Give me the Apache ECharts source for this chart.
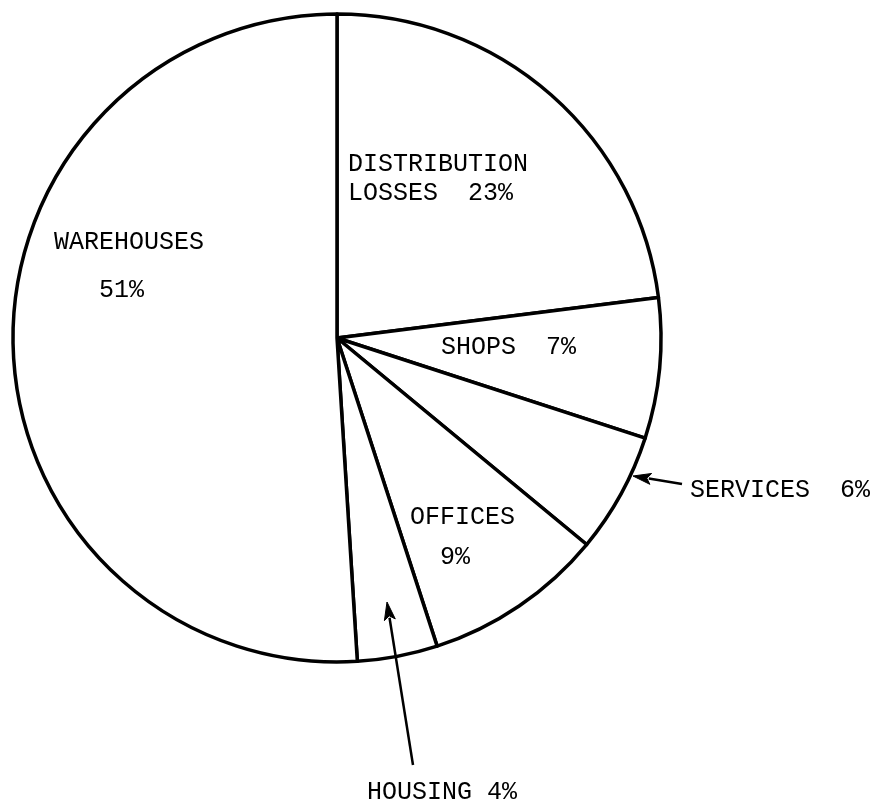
<!DOCTYPE html>
<html>
<head>
<meta charset="utf-8">
<script src="https://cdn.jsdelivr.net/npm/echarts@6/dist/echarts.min.js"></script>
<style>
html,body{margin:0;padding:0;background:#fff;}
#chart{width:879px;height:807px;}
</style>
</head>
<body>
<div id="chart"></div>
<script>
// ---- data ----
var categories = ['DISTRIBUTION LOSSES', 'SHOPS', 'SERVICES', 'OFFICES', 'HOUSING', 'WAREHOUSES'];
var values = [23, 7, 6, 9, 4, 51];
var labelTexts = ['DISTRIBUTION\nLOSSES  23%', 'SHOPS  7%', 'SERVICES  6%', 'OFFICES\n  9%', 'HOUSING 4%', 'WAREHOUSES\n   51%'];

// ---- layout (positions / styles, not data) ----
var labelPos = [
  {x: 348, y: 150, lh: 29},
  {x: 441, y: 332, lh: 30},
  {x: 690, y: 475, lh: 30},
  {x: 410, y: 497, lh: 40},
  {x: 367, y: 777, lh: 30},
  {x: 54, y: 218, lh: 48}
];
var arrows = [
  {tail: [682, 484], tip: [633, 476]},
  {tail: [413, 765], tip: [387, 602]}
];

var font = '"Liberation Mono", "DejaVu Sans Mono", monospace';

var data = categories.map(function (c, i) {
  return {
    name: c,
    value: values[i],
    label: {lineHeight: labelPos[i].lh}
  };
});

function arrowGraphics(a) {
  var dx = a.tip[0] - a.tail[0], dy = a.tip[1] - a.tail[1];
  var len = Math.sqrt(dx * dx + dy * dy);
  var ux = dx / len, uy = dy / len;
  var hl = 18, hw = 5.5;
  var bx = a.tip[0] - ux * hl, by = a.tip[1] - uy * hl;
  return [
    {type: 'polyline', silent: true, z: 100, shape: {points: [a.tail, [bx + ux * 2, by + uy * 2]]},
     style: {stroke: '#000', lineWidth: 2.5, fill: null}},
    {type: 'polygon', silent: true, z: 100, shape: {points: [a.tip, [bx - uy * hw, by + ux * hw], [bx + ux * 4, by + uy * 4], [bx + uy * hw, by - ux * hw]]},
     style: {fill: '#000', stroke: '#000', lineWidth: 1}}
  ];
}
var graphics = [];
arrows.forEach(function (a) { graphics = graphics.concat(arrowGraphics(a)); });

var chart = echarts.init(document.getElementById('chart'), null, {renderer: 'canvas'});
chart.setOption({
  backgroundColor: '#fff',
  animation: false,
  graphic: {elements: graphics},
  series: [{
    type: 'pie',
    z: 1,
    center: [337, 338],
    radius: [0, 324],
    startAngle: 90,
    clockwise: true,
    avoidLabelOverlap: false,
    silent: true,
    itemStyle: {color: '#fff', borderColor: '#000', borderWidth: 3.5},
    emphasis: {disabled: true},
    label: {
      show: true,
      position: 'inside',
      color: '#000',
      fontFamily: font,
      fontSize: 25,
      formatter: function (p) { return labelTexts[p.dataIndex]; }
    },
    labelLine: {show: false},
    labelLayout: function (p) {
      var lp = labelPos[p.dataIndex];
      return {x: lp.x, y: lp.y, align: 'left', verticalAlign: 'top'};
    },
    data: data
  }]
});
</script>
</body>
</html>
